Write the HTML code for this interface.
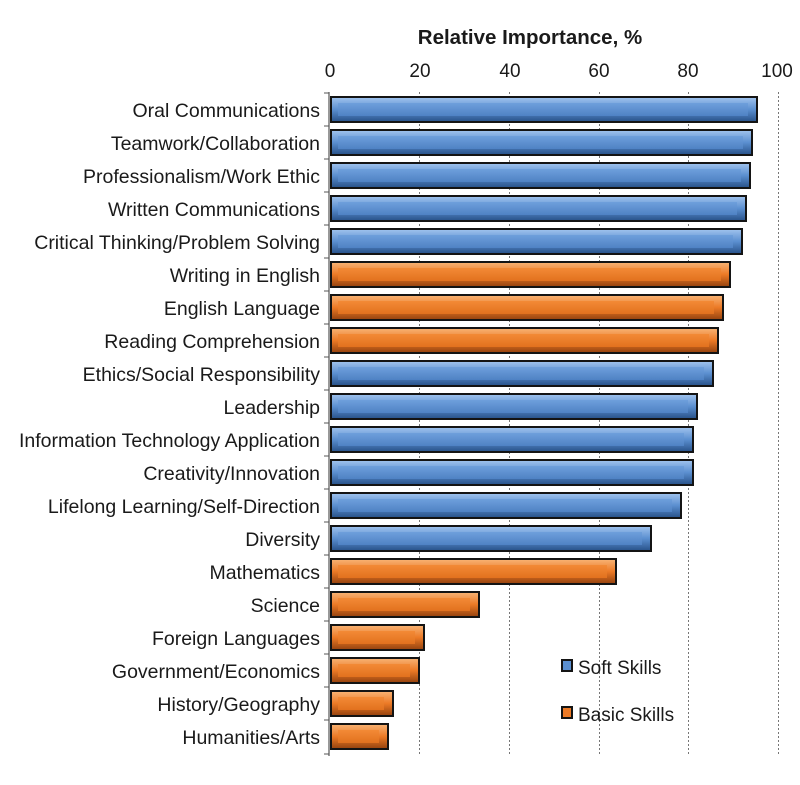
<!DOCTYPE html>
<html><head><meta charset="utf-8"><style>
html,body{margin:0;padding:0;background:#fff}
svg{display:block}
text{font-family:"Liberation Sans",Arial,sans-serif;fill:#1a1a1a}
</style></head><body>
<svg width="800" height="785" viewBox="0 0 800 785" xmlns="http://www.w3.org/2000/svg">
<defs>
<linearGradient id="bb" x1="0" y1="0" x2="0" y2="1"><stop offset="0" stop-color="#9cc0ec"/><stop offset="0.5" stop-color="#5b8fd0"/><stop offset="1" stop-color="#2b568e"/></linearGradient>
<linearGradient id="ob" x1="0" y1="0" x2="0" y2="1"><stop offset="0" stop-color="#f8b070"/><stop offset="0.5" stop-color="#ec7a26"/><stop offset="1" stop-color="#9a4610"/></linearGradient>
<linearGradient id="bf" x1="0" y1="0" x2="0" y2="1"><stop offset="0" stop-color="#6e9fdc"/><stop offset="1" stop-color="#4f82c4"/></linearGradient>
<linearGradient id="of" x1="0" y1="0" x2="0" y2="1"><stop offset="0" stop-color="#f38a36"/><stop offset="1" stop-color="#e2711e"/></linearGradient>
</defs>
<text x="530" y="44" font-size="20.5" font-weight="bold" text-anchor="middle">Relative Importance, %</text>
<g font-size="19" text-anchor="middle">
<text x="330" y="77">0</text><text x="420" y="77">20</text><text x="510" y="77">40</text><text x="599" y="77">60</text><text x="688" y="77">80</text><text x="777" y="77">100</text>
</g>
<g stroke="#777" stroke-width="1" stroke-dasharray="2,2">
<line x1="419.5" y1="92" x2="419.5" y2="756"/><line x1="509.5" y1="92" x2="509.5" y2="756"/><line x1="599.5" y1="92" x2="599.5" y2="756"/><line x1="688.5" y1="92" x2="688.5" y2="756"/><line x1="778.5" y1="92" x2="778.5" y2="756"/>
</g>
<line x1="329" y1="92" x2="329" y2="756" stroke="#555" stroke-width="1.2"/>
<g stroke="#555">
<line x1="324" y1="93" x2="329" y2="93"/><line x1="324" y1="126" x2="329" y2="126"/><line x1="324" y1="159" x2="329" y2="159"/><line x1="324" y1="192" x2="329" y2="192"/><line x1="324" y1="225" x2="329" y2="225"/><line x1="324" y1="258" x2="329" y2="258"/><line x1="324" y1="291" x2="329" y2="291"/><line x1="324" y1="324" x2="329" y2="324"/><line x1="324" y1="357" x2="329" y2="357"/><line x1="324" y1="390" x2="329" y2="390"/><line x1="324" y1="423" x2="329" y2="423"/><line x1="324" y1="456" x2="329" y2="456"/><line x1="324" y1="489" x2="329" y2="489"/><line x1="324" y1="522" x2="329" y2="522"/><line x1="324" y1="555" x2="329" y2="555"/><line x1="324" y1="588" x2="329" y2="588"/><line x1="324" y1="621" x2="329" y2="621"/><line x1="324" y1="654" x2="329" y2="654"/><line x1="324" y1="687" x2="329" y2="687"/><line x1="324" y1="720" x2="329" y2="720"/><line x1="324" y1="754" x2="329" y2="754"/>
</g>
<g font-size="19.5" text-anchor="end">
<text x="320" y="117">Oral Communications</text>
<text x="320" y="150">Teamwork/Collaboration</text>
<text x="320" y="183">Professionalism/Work Ethic</text>
<text x="320" y="216">Written Communications</text>
<text x="320" y="249">Critical Thinking/Problem Solving</text>
<text x="320" y="282">Writing in English</text>
<text x="320" y="315">English Language</text>
<text x="320" y="348">Reading Comprehension</text>
<text x="320" y="381">Ethics/Social Responsibility</text>
<text x="320" y="414">Leadership</text>
<text x="320" y="447">Information Technology Application</text>
<text x="320" y="480">Creativity/Innovation</text>
<text x="320" y="513">Lifelong Learning/Self-Direction</text>
<text x="320" y="546">Diversity</text>
<text x="320" y="579">Mathematics</text>
<text x="320" y="612">Science</text>
<text x="320" y="645">Foreign Languages</text>
<text x="320" y="678">Government/Economics</text>
<text x="320" y="711">History/Geography</text>
<text x="320" y="744">Humanities/Arts</text>
</g>
<g>
<g transform="translate(0,96)"><rect x="330" y="0" width="428" height="27" fill="#141414"/><rect x="332" y="2" width="424" height="23" fill="url(#bb)"/><rect x="338" y="7" width="410" height="13" fill="url(#bf)"/></g>
<g transform="translate(0,129)"><rect x="330" y="0" width="423" height="27" fill="#141414"/><rect x="332" y="2" width="419" height="23" fill="url(#bb)"/><rect x="338" y="7" width="405" height="13" fill="url(#bf)"/></g>
<g transform="translate(0,162)"><rect x="330" y="0" width="421" height="27" fill="#141414"/><rect x="332" y="2" width="417" height="23" fill="url(#bb)"/><rect x="338" y="7" width="403" height="13" fill="url(#bf)"/></g>
<g transform="translate(0,195)"><rect x="330" y="0" width="417" height="27" fill="#141414"/><rect x="332" y="2" width="413" height="23" fill="url(#bb)"/><rect x="338" y="7" width="399" height="13" fill="url(#bf)"/></g>
<g transform="translate(0,228)"><rect x="330" y="0" width="413" height="27" fill="#141414"/><rect x="332" y="2" width="409" height="23" fill="url(#bb)"/><rect x="338" y="7" width="395" height="13" fill="url(#bf)"/></g>
<g transform="translate(0,261)"><rect x="330" y="0" width="401" height="27" fill="#141414"/><rect x="332" y="2" width="397" height="23" fill="url(#ob)"/><rect x="338" y="7" width="383" height="13" fill="url(#of)"/></g>
<g transform="translate(0,294)"><rect x="330" y="0" width="394" height="27" fill="#141414"/><rect x="332" y="2" width="390" height="23" fill="url(#ob)"/><rect x="338" y="7" width="376" height="13" fill="url(#of)"/></g>
<g transform="translate(0,327)"><rect x="330" y="0" width="389" height="27" fill="#141414"/><rect x="332" y="2" width="385" height="23" fill="url(#ob)"/><rect x="338" y="7" width="371" height="13" fill="url(#of)"/></g>
<g transform="translate(0,360)"><rect x="330" y="0" width="384" height="27" fill="#141414"/><rect x="332" y="2" width="380" height="23" fill="url(#bb)"/><rect x="338" y="7" width="366" height="13" fill="url(#bf)"/></g>
<g transform="translate(0,393)"><rect x="330" y="0" width="368" height="27" fill="#141414"/><rect x="332" y="2" width="364" height="23" fill="url(#bb)"/><rect x="338" y="7" width="350" height="13" fill="url(#bf)"/></g>
<g transform="translate(0,426)"><rect x="330" y="0" width="364" height="27" fill="#141414"/><rect x="332" y="2" width="360" height="23" fill="url(#bb)"/><rect x="338" y="7" width="346" height="13" fill="url(#bf)"/></g>
<g transform="translate(0,459)"><rect x="330" y="0" width="364" height="27" fill="#141414"/><rect x="332" y="2" width="360" height="23" fill="url(#bb)"/><rect x="338" y="7" width="346" height="13" fill="url(#bf)"/></g>
<g transform="translate(0,492)"><rect x="330" y="0" width="352" height="27" fill="#141414"/><rect x="332" y="2" width="348" height="23" fill="url(#bb)"/><rect x="338" y="7" width="334" height="13" fill="url(#bf)"/></g>
<g transform="translate(0,525)"><rect x="330" y="0" width="322" height="27" fill="#141414"/><rect x="332" y="2" width="318" height="23" fill="url(#bb)"/><rect x="338" y="7" width="304" height="13" fill="url(#bf)"/></g>
<g transform="translate(0,558)"><rect x="330" y="0" width="287" height="27" fill="#141414"/><rect x="332" y="2" width="283" height="23" fill="url(#ob)"/><rect x="338" y="7" width="269" height="13" fill="url(#of)"/></g>
<g transform="translate(0,591)"><rect x="330" y="0" width="150" height="27" fill="#141414"/><rect x="332" y="2" width="146" height="23" fill="url(#ob)"/><rect x="338" y="7" width="132" height="13" fill="url(#of)"/></g>
<g transform="translate(0,624)"><rect x="330" y="0" width="95" height="27" fill="#141414"/><rect x="332" y="2" width="91" height="23" fill="url(#ob)"/><rect x="338" y="7" width="77" height="13" fill="url(#of)"/></g>
<g transform="translate(0,657)"><rect x="330" y="0" width="90" height="27" fill="#141414"/><rect x="332" y="2" width="86" height="23" fill="url(#ob)"/><rect x="338" y="7" width="72" height="13" fill="url(#of)"/></g>
<g transform="translate(0,690)"><rect x="330" y="0" width="64" height="27" fill="#141414"/><rect x="332" y="2" width="60" height="23" fill="url(#ob)"/><rect x="338" y="7" width="46" height="13" fill="url(#of)"/></g>
<g transform="translate(0,723)"><rect x="330" y="0" width="59" height="27" fill="#141414"/><rect x="332" y="2" width="55" height="23" fill="url(#ob)"/><rect x="338" y="7" width="41" height="13" fill="url(#of)"/></g>
</g>
<rect x="561" y="659" width="12" height="13" fill="#141414"/><rect x="563" y="661" width="8" height="9" fill="#5b8fd0"/>
<text x="578" y="674" font-size="19">Soft Skills</text>
<rect x="561" y="706" width="12" height="13" fill="#141414"/><rect x="563" y="708" width="8" height="9" fill="#ec7a26"/>
<text x="578" y="721" font-size="19">Basic Skills</text>
</svg>
</body></html>
